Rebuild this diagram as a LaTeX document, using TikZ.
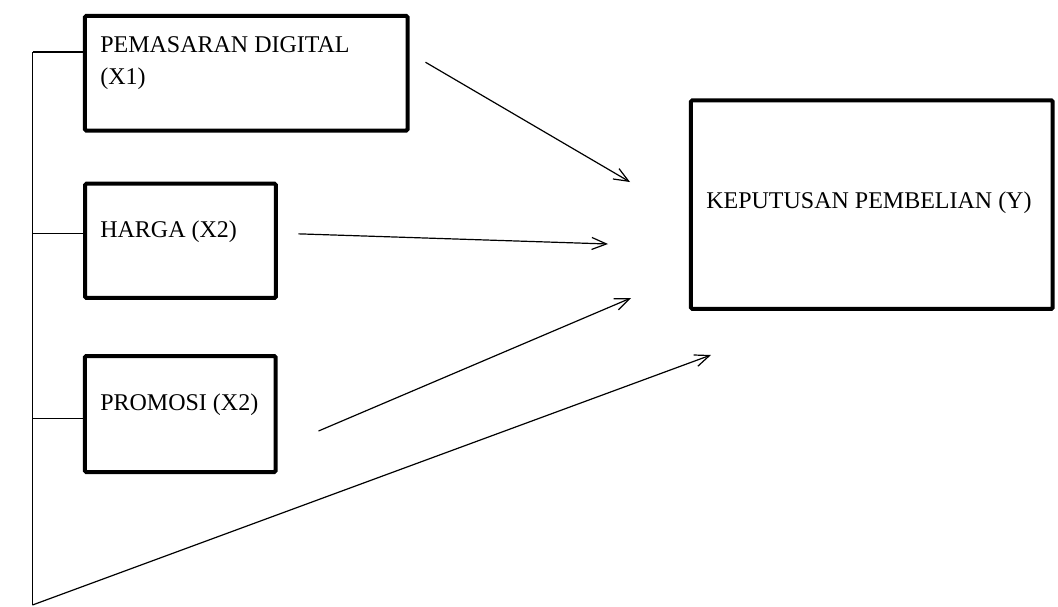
\documentclass[tikz,border=0pt]{standalone}
\usepackage{fontspec}
\setmainfont{Liberation Serif}
\usepackage{tikz}
\usetikzlibrary{arrows.meta}
\usetikzlibrary{positioning}

\begin{document}
\begin{tikzpicture}[x=0.75pt,y=-0.75pt,
                varbox/.style={draw, line width=3pt, rounded corners=1pt, inner sep=0pt},
                lbl/.style={anchor=base west, inner sep=0pt, font=\fontsize{18}{22}\selectfont},
                arr/.style={-{Straight Barb[length=11pt,width=9pt]}, line width=0.9pt},
                link/.style={line width=0.9pt}]
                \useasboundingbox (0,0) rectangle (1058,607);
                % boxes
                \node[varbox, minimum width=241.9pt, minimum height=85.9pt] (x1) at (246.25,73.25) {};
                \node[varbox, minimum width=143.2pt, minimum height=85.7pt] (x2) at (180.5,240.85) {};
                \node[varbox, minimum width=142.9pt, minimum height=87pt] (x3) at (180.25,414) {};
                \node[varbox, minimum width=271.3pt, minimum height=156.5pt] (y) at (871.85,204.65) {};
                % texts
                \node[lbl] (x1a) at (100,52) {PEMASARAN DIGITAL};
                \node[lbl] (x1b) at (100,84) {(X1)};
                \node[lbl] (x2t) at (100,237) {HARGA (X2)};
                \node[lbl] (x3t) at (100,410) {PROMOSI (X2)};
                \node[lbl] (yt) at (706,208) {KEPUTUSAN PEMBELIAN (Y)};
                % left bracket
                \coordinate (b1) at (32.5,52);
                \coordinate (b2) at (32.5,233.3);
                \coordinate (b3) at (32.5,418.3);
                \coordinate (b4) at (32.5,605);
                \draw[link] (b1) -- (b4);
                \draw[link] (b1) -- (b1 -| x1.west);
                \draw[link] (b2) -- (b2 -| x2.west);
                \draw[link] (b3) -- (b3 -| x3.west);
                % arrows to Y
                \coordinate (t1) at (630,182);
                \coordinate (t2) at (608,244);
                \coordinate (t3) at (631,298);
                \coordinate (t4) at (711,355);
                \draw[arr] ([shift={(16,-11)}]x1.east) -- (t1);
                \draw[arr] ([shift={(20.5,-7)}]x2.east) -- (t2);
                \draw[arr] ([shift={(41,17)}]x3.east) -- (t3);
                \draw[arr] (b4) -- (t4);
            \end{tikzpicture}
\end{document}
